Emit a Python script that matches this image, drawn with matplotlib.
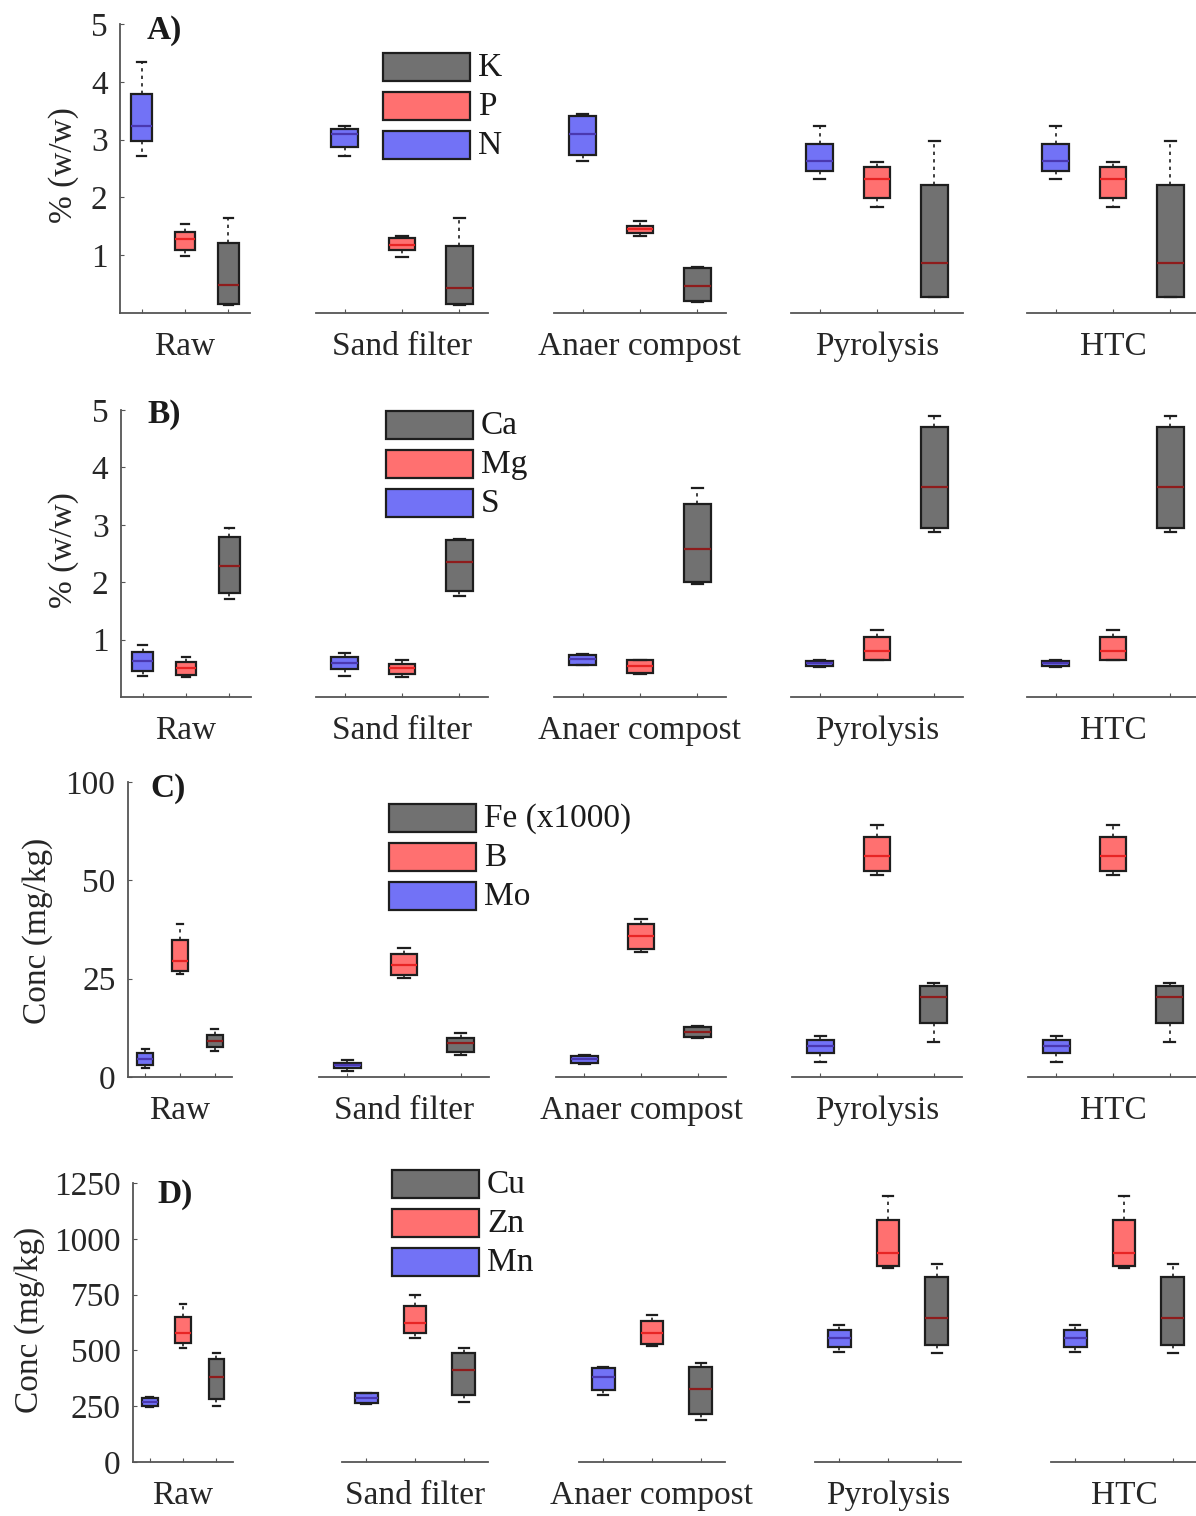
import matplotlib.pyplot as plt
from matplotlib.patches import Rectangle

plt.rcParams['font.family'] = ['Liberation Serif', 'DejaVu Serif']
plt.rcParams['font.size'] = 24

W, H = 1196, 1516

TREATMENTS = ["Raw", "Sand filter", "Anaer compost", "Pyrolysis", "HTC"]

# box stats per treatment: (lower whisker, q1, median, q3, upper whisker)
N_pct = [(2.72, 2.97, 3.24, 3.79, 4.34), (2.72, 2.87, 3.10, 3.19, 3.23),
         (2.63, 2.73, 3.10, 3.41, 3.44), (2.31, 2.46, 2.63, 2.93, 3.23),
         (2.31, 2.46, 2.63, 2.93, 3.23)]
P_pct = [(0.99, 1.09, 1.28, 1.40, 1.54), (0.97, 1.09, 1.18, 1.29, 1.34),
         (1.33, 1.38, 1.45, 1.51, 1.60), (1.83, 1.99, 2.31, 2.52, 2.62),
         (1.83, 1.99, 2.31, 2.52, 2.62)]
K_pct = [(0.14, 0.16, 0.49, 1.21, 1.64), (0.14, 0.16, 0.43, 1.16, 1.65),
         (0.19, 0.20, 0.47, 0.77, 0.79), (0.27, 0.28, 0.87, 2.22, 2.97),
         (0.27, 0.28, 0.87, 2.22, 2.97)]

S_pct = [(0.37, 0.46, 0.63, 0.79, 0.91), (0.37, 0.48, 0.60, 0.70, 0.76),
         (0.55, 0.56, 0.66, 0.73, 0.75), (0.52, 0.54, 0.60, 0.63, 0.64),
         (0.52, 0.54, 0.60, 0.63, 0.64)]
Mg_pct = [(0.35, 0.38, 0.50, 0.61, 0.70), (0.34, 0.40, 0.50, 0.57, 0.64),
          (0.40, 0.41, 0.54, 0.64, 0.65), (0.64, 0.65, 0.80, 1.05, 1.17),
          (0.64, 0.65, 0.80, 1.05, 1.17)]
Ca_pct = [(1.70, 1.82, 2.28, 2.79, 2.95), (1.76, 1.85, 2.35, 2.74, 2.75),
          (1.97, 2.01, 2.58, 3.36, 3.64), (2.87, 2.95, 3.66, 4.70, 4.90),
          (2.87, 2.95, 3.66, 4.70, 4.90)]

Mo_mgkg = [(2.4, 3.1, 4.7, 6.2, 7.0), (1.4, 2.2, 3.05, 3.6, 4.3),
           (3.3, 3.5, 4.5, 5.3, 5.6), (3.8, 6.0, 7.8, 9.4, 10.3),
           (3.8, 6.0, 7.8, 9.4, 10.3)]
B_mgkg = [(26.2, 27.0, 29.5, 34.9, 38.9), (25.1, 26.0, 28.5, 31.3, 32.7),
          (31.9, 32.5, 35.9, 38.9, 40.1), (51.4, 52.3, 56.2, 61.1, 64.0),
          (51.4, 52.3, 56.2, 61.1, 64.0)]
Fe_gkg = [(6.6, 7.6, 9.2, 10.7, 12.1), (5.6, 6.4, 8.6, 9.8, 11.3),
          (10.0, 10.2, 11.5, 12.7, 12.9), (8.9, 13.7, 20.4, 23.2, 24.0),
          (8.9, 13.7, 20.4, 23.2, 24.0)]

Mn_mgkg = [(248, 252, 268, 287, 292), (262, 263, 285, 308, 310),
           (300, 323, 382, 420, 424), (493, 515, 556, 591, 614),
           (493, 515, 556, 591, 614)]
Zn_mgkg = [(509, 532, 579, 651, 707), (554, 577, 624, 699, 748),
           (520, 527, 577, 632, 659), (869, 878, 936, 1084, 1192),
           (869, 878, 936, 1084, 1192)]
Cu_mgkg = [(251, 281, 379, 460, 490), (267, 300, 412, 487, 512),
           (188, 215, 326, 427, 445), (488, 524, 645, 829, 887),
           (488, 524, 645, 829, 887)]

FILL = ["#7272f6", "#ff7070", "#717171"]
MED = ["#4a38b0", "#e82424", "#8e1c1c"]

panels = [
    dict(tag="A)", ylabel="% (w/w)", names=["N", "P", "K"], data=[N_pct, P_pct, K_pct],
         ylim=(0, 5), yticks=[1, 2, 3, 4, 5], yticklabels=["1", "2", "3", "4", "5"],
         top=24, bottom=313, raw=(120, 250), centers=[402, 640, 877, 1113], width=172,
         ylab_xy=(64, 165), tag_xy=(147, 30), leg_xy=(383, 53)),
    dict(tag="B)", ylabel="% (w/w)", names=["S", "Mg", "Ca"], data=[S_pct, Mg_pct, Ca_pct],
         ylim=(0, 5), yticks=[1, 2, 3, 4, 5], yticklabels=["1", "2", "3", "4", "5"],
         top=410, bottom=697, raw=(121, 251), centers=[402, 640, 877, 1113], width=172,
         ylab_xy=(64, 550), tag_xy=(147, 414), leg_xy=(386, 411)),
    dict(tag="C)", ylabel="Conc (mg/kg)", names=["Mo", "B", "Fe (x1000)"], data=[Mo_mgkg, B_mgkg, Fe_gkg],
         ylim=(0, 75), yticks=[0, 25, 50, 75], yticklabels=["0", "25", "50", "100"],
         top=782, bottom=1077, raw=(128, 232), centers=[404, 641, 877, 1113], width=170,
         ylab_xy=(38, 931), tag_xy=(150, 789), leg_xy=(389, 804)),
    dict(tag="D)", ylabel="Conc (mg/kg)", names=["Mn", "Zn", "Cu"], data=[Mn_mgkg, Zn_mgkg, Cu_mgkg],
         ylim=(0, 1250), yticks=[0, 250, 500, 750, 1000, 1250],
         yticklabels=["0", "250", "500", "750", "1000", "1250"],
         top=1183, bottom=1462, raw=(133, 233), centers=[415, 652, 888, 1124], width=146,
         ylab_xy=(30, 1320), tag_xy=(157, 1194), leg_xy=(392, 1170)),
]

fig = plt.figure(figsize=(W / 100, H / 100), dpi=100)


def add_ax(left, right, top, bottom):
    return fig.add_axes([left / W, 1 - bottom / H, (right - left) / W, (bottom - top) / H])


for p in panels:
    spans = [p["raw"]] + [(c - p["width"] / 2, c + p["width"] / 2) for c in p["centers"]]
    for t, (l, r) in enumerate(spans):
        ax = add_ax(l, r, p["top"], p["bottom"])
        stats = []
        for series in p["data"]:
            lo, q1, med, q3, hi = series[t]
            stats.append(dict(whislo=lo, q1=q1, med=med, q3=q3, whishi=hi))
        bp = ax.bxp(stats, positions=[1, 2, 3], widths=0.47, capwidths=0.2,
                    patch_artist=True, showfliers=False,
                    boxprops=dict(edgecolor="#1e1e1e", linewidth=1.6),
                    whiskerprops=dict(color="#1e1e1e", linewidth=1.2, linestyle=(0, (2, 2.5))),
                    capprops=dict(color="#1e1e1e", linewidth=1.6),
                    medianprops=dict(linewidth=1.6))
        for i in range(3):
            bp["boxes"][i].set_facecolor(FILL[i])
            bp["medians"][i].set_color(MED[i])
        ax.set_xlim(0.5, 3.5)
        ax.set_ylim(*p["ylim"])
        ax.set_xticks([1, 2, 3])
        ax.set_xticklabels([])
        ax.tick_params(axis="x", direction="in", length=3, width=0.8, color="#555555")
        for s in ["top", "right"]:
            ax.spines[s].set_visible(False)
        ax.spines["bottom"].set_color("#555555")
        ax.spines["bottom"].set_linewidth(1.3)
        if t == 0:
            ax.set_yticks(p["yticks"])
            ax.set_yticklabels(p["yticklabels"])
            ax.tick_params(axis="y", direction="in", length=3, width=0.8, color="#555555",
                           labelcolor="#262626", pad=9)
            ax.spines["left"].set_color("#555555")
            ax.spines["left"].set_linewidth(1.3)
        else:
            ax.spines["left"].set_visible(False)
            ax.set_yticks([])
        ax.patch.set_alpha(0)
        ax.annotate(TREATMENTS[t], xy=(0.5, 0), xycoords="axes fraction",
                    xytext=(0, -34), textcoords="offset pixels",
                    ha="center", va="center", color="#262626")

    x, y = p["ylab_xy"]
    fig.text(x / W, 1 - y / H, p["ylabel"], rotation=90, ha="center", va="center", color="#262626")
    x, y = p["tag_xy"]
    fig.text(x / W, 1 - y / H, p["tag"], ha="left", va="center", fontweight="bold", color="#1a1a1a")

    # legend: top entry is the third series
    lx, ly = p["leg_xy"]
    for k, i in enumerate([2, 1, 0]):
        top = ly + k * 39
        fig.add_artist(Rectangle((lx / W, 1 - (top + 28) / H), 87 / W, 28 / H,
                                 transform=fig.transFigure, facecolor=FILL[i],
                                 edgecolor="#1e1e1e", linewidth=1.6))
        fig.text((lx + 95) / W, 1 - (top + 15) / H, p["names"][i], ha="left", va="center",
                 color="#1a1a1a")

fig.savefig("out.png", dpi=100)
